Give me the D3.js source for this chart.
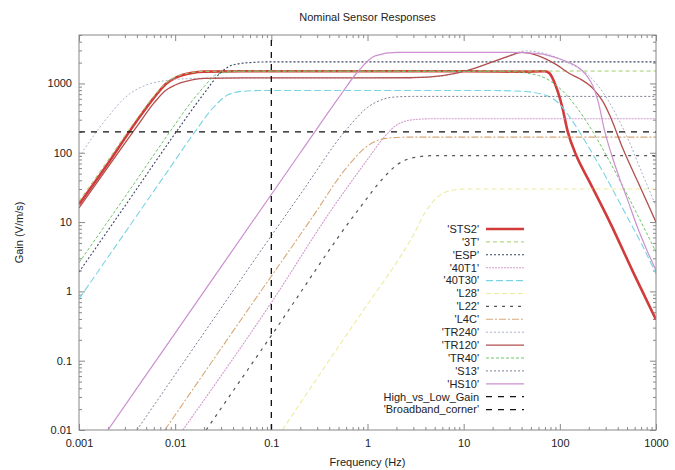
<!DOCTYPE html>
<script src="https://cdn.jsdelivr.net/npm/d3@7/dist/d3.min.js"></script>
<style>
    body { margin: 0; background: #fff; }
    svg text {
        font-family: "Liberation Sans", Arial, sans-serif;
        font-size: 11px;
        fill: #222;
    }
</style>
<svg id="chart" width="675" height="470"></svg>
<script>
    // frequency (Hz), gain (V/m/s) pairs
    var sts2 = [[0.001, 18], [0.002, 70], [0.004, 290], [0.006, 620], [0.008, 980], [0.01, 1200], [0.015, 1420], [0.02, 1480], [0.05, 1500], [1, 1500], [10, 1500], [40, 1480], [70, 1500], [78, 1400], [90, 950], [105, 480], [121, 200], [150, 88], [200, 40], [331, 10], [600, 1.7], [1000, 0.39]];
    var t3 = [[0.001, 20], [0.002, 78], [0.004, 310], [0.006, 650], [0.008, 1010], [0.01, 1230], [0.015, 1440], [0.02, 1490], [0.05, 1510], [1, 1510], [100, 1510], [1000, 1510]];
    var esp = [[0.001, 1.9], [0.003, 17], [0.01, 190], [0.02, 720], [0.03, 1450], [0.04, 1850], [0.06, 2000], [0.1, 2050], [1000, 2050]];
    var t40_1 = [[0.012, 0.01], [0.1, 0.69], [0.43, 15.6], [1, 80], [1.5, 170], [2, 250], [3, 300], [5, 310], [1000, 310]];
    var t40_30 = [[0.001, 0.78], [0.003, 7], [0.01, 78], [0.016, 200], [0.025, 450], [0.035, 680], [0.05, 770], [0.08, 790], [20, 790], [40, 770], [70, 680], [100, 500], [130, 310], [160, 200], [200, 120], [300, 45], [500, 12], [700, 5], [1000, 1.8]];
    var l28 = [[0.13, 0.01], [0.5, 0.16], [1, 0.65], [2, 2.6], [3, 6.5], [4, 14], [5, 21], [7, 28], [10, 30], [1000, 30]];
    var l22 = [[0.021, 0.01], [0.1, 0.23], [0.83, 16], [1.5, 45], [2, 66], [3, 85], [5, 91], [1000, 91]];
    var l4c = [[0.0078, 0.01], [0.06, 0.6], [0.27, 12], [0.6, 60], [1, 125], [1.5, 160], [2.5, 168], [1000, 168]];
    var tr240 = [[0.001, 87], [0.002, 330], [0.003, 620], [0.005, 950], [0.008, 1100], [0.015, 1180], [0.03, 1200], [1, 1210], [5, 1250], [12, 1600], [25, 2300], [45, 2950], [70, 2700], [120, 2000], [200, 1300], [300, 650], [400, 320], [500, 170], [700, 55], [1000, 17]];
    var tr120 = [[0.001, 16], [0.002, 62], [0.004, 240], [0.006, 520], [0.008, 800], [0.01, 950], [0.015, 1130], [0.02, 1180], [0.05, 1200], [1, 1200], [3, 1210], [6, 1300], [11, 1550], [20, 2050], [30, 2500], [40, 2800], [60, 2500], [90, 1900], [127, 1380], [161, 1170], [220, 850], [280, 550], [331, 344], [452, 115], [700, 30], [1000, 10]];
    var tr40 = [[0.001, 2.6], [0.003, 23], [0.0088, 200], [0.015, 560], [0.02, 900], [0.027, 1350], [0.04, 1480], [0.06, 1500], [30, 1480], [60, 1300], [100, 850], [150, 450], [200, 250], [300, 95], [500, 25], [1000, 3.7]];
    var s13 = [[0.004, 0.01], [0.01, 0.063], [0.2, 25], [0.61, 220], [1, 450], [1.5, 600], [2, 640], [3, 650], [1000, 650]];
    var hs10 = [[0.002, 0.01], [0.01, 0.25], [0.2, 100], [0.5, 620], [0.8, 1500], [1.2, 2500], [2, 2800], [30, 2800], [60, 2700], [100, 2250], [160, 1650], [190, 1300], [220, 930], [250, 550], [294, 200], [340, 100], [420, 42], [500, 22], [650, 8], [800, 4], [1000, 2]];

    var seriesNames = ["'STS2'", "'3T'", "'ESP'", "'40T1'", "'40T30'", "'L28'", "'L22'", "'L4C'", "'TR240'", "'TR120'", "'TR40'", "'S13'", "'HS10'"];
    var seriesData = [sts2, t3, esp, t40_1, t40_30, l28, l22, l4c, tr240, tr120, tr40, s13, hs10];
    var refNames = ["High_vs_Low_Gain", "'Broadband_corner'"];
    var highLowGain = 200;
    var broadbandCorner = 0.1;

    var freqTicks = [0.001, 0.01, 0.1, 1, 10, 100, 1000];
    var gainTicks = [0.01, 0.1, 1, 10, 100, 1000];

    // line styles, same order as seriesNames
    var styles = [
        { color: "#d13b3b", width: 2.6, dash: null },
        { color: "#9fcf6a", width: 1, dash: "4,3" },
        { color: "#3d4766", width: 1.1, dash: "2,2" },
        { color: "#d29bd0", width: 1.1, dash: "2,1" },
        { color: "#79d3e3", width: 1.1, dash: "7,3" },
        { color: "#eeeba0", width: 1.1, dash: "5,3" },
        { color: "#555", width: 1.2, dash: "3,5" },
        { color: "#d8a878", width: 1.1, dash: "7,2,2,2" },
        { color: "#aab3cc", width: 1, dash: "2,2" },
        { color: "#b24e4e", width: 1.3, dash: null },
        { color: "#6cc46c", width: 1, dash: "3,2" },
        { color: "#7a7f99", width: 1, dash: "2,2" },
        { color: "#cc8fcf", width: 1.2, dash: null }
    ];

    var svg = d3.select("#chart"),
        plotLeft = 79, plotRight = 656, plotTop = 35, plotBottom = 430;

    var x = d3.scaleLog().domain([0.001, 1000]).range([plotLeft, plotRight]);
    var y = d3.scaleLog().domain([0.01, 5000]).range([plotBottom, plotTop]);

    var minorX = [], minorY = [];
    freqTicks.slice(0, -1).forEach(function(d) {
        for (var k = 2; k < 10; k++) minorX.push(d * k);
    });
    gainTicks.forEach(function(d) {
        for (var k = 2; k < 10; k++) if (d * k <= 5000) minorY.push(d * k);
    });

    svg.append("clipPath").attr("id", "clip")
        .append("rect")
        .attr("x", plotLeft).attr("y", plotTop)
        .attr("width", plotRight - plotLeft).attr("height", plotBottom - plotTop);

    function fmt(d) { return String(d); }

    // axes with inward ticks, mirrored top and right
    function styleAxis(g) {
        g.select(".domain").remove();
        g.selectAll(".tick line").attr("stroke", "#888");
    }
    svg.append("g").attr("transform", "translate(0," + plotBottom + ")")
        .call(d3.axisBottom(x).tickValues(freqTicks).tickFormat(fmt).tickSize(-6).tickPadding(9))
        .call(styleAxis)
        .selectAll("text").attr("font-size", "11px").attr("fill", "#222");
    svg.append("g").attr("transform", "translate(0," + plotBottom + ")")
        .call(d3.axisBottom(x).tickValues(minorX).tickFormat("").tickSize(-3))
        .call(styleAxis);
    svg.append("g").attr("transform", "translate(0," + plotTop + ")")
        .call(d3.axisTop(x).tickValues(freqTicks).tickFormat("").tickSize(-6))
        .call(styleAxis);
    svg.append("g").attr("transform", "translate(0," + plotTop + ")")
        .call(d3.axisTop(x).tickValues(minorX).tickFormat("").tickSize(-3))
        .call(styleAxis);
    svg.append("g").attr("transform", "translate(" + plotLeft + ",0)")
        .call(d3.axisLeft(y).tickValues(gainTicks).tickFormat(fmt).tickSize(-6).tickPadding(7))
        .call(styleAxis)
        .selectAll("text").attr("font-size", "11px").attr("fill", "#222");
    svg.append("g").attr("transform", "translate(" + plotLeft + ",0)")
        .call(d3.axisLeft(y).tickValues(minorY).tickFormat("").tickSize(-3))
        .call(styleAxis);
    svg.append("g").attr("transform", "translate(" + plotRight + ",0)")
        .call(d3.axisRight(y).tickValues(gainTicks).tickFormat("").tickSize(-6))
        .call(styleAxis);
    svg.append("g").attr("transform", "translate(" + plotRight + ",0)")
        .call(d3.axisRight(y).tickValues(minorY).tickFormat("").tickSize(-3))
        .call(styleAxis);

    var line = d3.line()
        .x(function(d) { return x(d[0]); })
        .y(function(d) { return y(d[1]); })
        .curve(d3.curveMonotoneX);

    var plot = svg.append("g").attr("clip-path", "url(#clip)");

    seriesData.forEach(function(data, i) {
        plot.append("path")
            .datum(data)
            .attr("fill", "none")
            .attr("stroke", styles[i].color)
            .attr("stroke-width", styles[i].width)
            .attr("stroke-dasharray", styles[i].dash)
            .attr("stroke-linejoin", "round")
            .attr("d", line);
    });

    plot.append("line")
        .attr("x1", plotLeft).attr("x2", plotRight)
        .attr("y1", y(highLowGain)).attr("y2", y(highLowGain))
        .attr("stroke", "#111").attr("stroke-width", 1.3).attr("stroke-dasharray", "6,6");
    plot.append("line")
        .attr("x1", x(broadbandCorner)).attr("x2", x(broadbandCorner))
        .attr("y1", plotBottom).attr("y2", plotTop)
        .attr("stroke", "#111").attr("stroke-width", 1.3).attr("stroke-dasharray", "6,6");

    // frame
    svg.append("rect")
        .attr("x", plotLeft).attr("y", plotTop)
        .attr("width", plotRight - plotLeft).attr("height", plotBottom - plotTop)
        .attr("fill", "none").attr("stroke", "#888");

    // legend
    var legend = svg.append("g");
    var allNames = seriesNames.concat(refNames);
    allNames.forEach(function(name, i) {
        var ly = 229 + i * 12.9;
        legend.append("text")
            .attr("x", 479).attr("y", ly).attr("dy", "0.35em")
            .attr("text-anchor", "end")
            .text(name);
        var st = i < styles.length ? styles[i] : { color: "#111", width: 1.3, dash: "6,6" };
        legend.append("line")
            .attr("x1", 486).attr("x2", 524).attr("y1", ly).attr("y2", ly)
            .attr("stroke", st.color)
            .attr("stroke-width", st.width)
            .attr("stroke-dasharray", st.dash);
    });

    svg.append("text")
        .attr("x", (plotLeft + plotRight) / 2).attr("y", 21)
        .attr("text-anchor", "middle")
        .text("Nominal Sensor Responses");

    svg.append("text")
        .attr("x", (plotLeft + plotRight) / 2).attr("y", 466)
        .attr("text-anchor", "middle")
        .text("Frequency (Hz)");

    svg.append("text")
        .attr("transform", "translate(23," + (plotTop + plotBottom) / 2 + ") rotate(-90)")
        .attr("text-anchor", "middle")
        .text("Gain (V/m/s)");
</script>
